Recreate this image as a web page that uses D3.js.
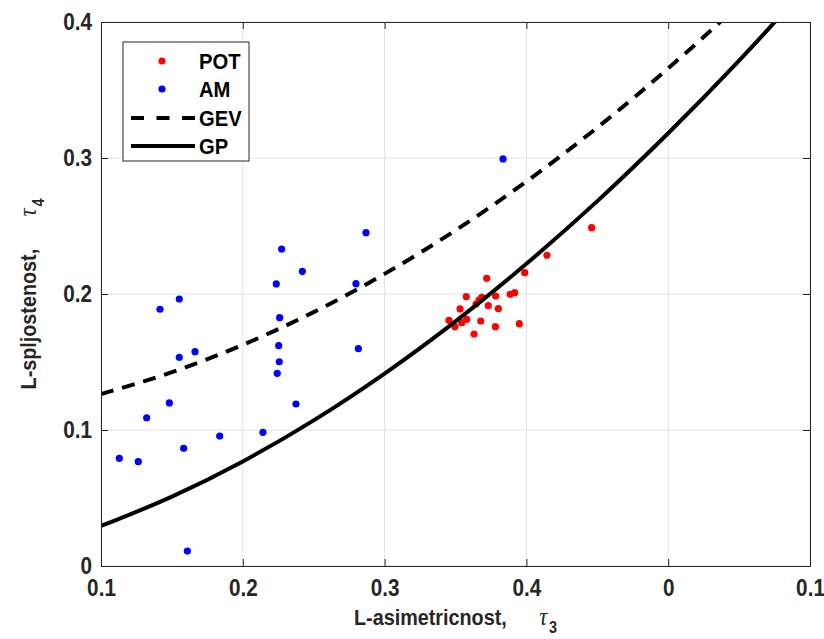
<!DOCTYPE html>
<html><head><meta charset="utf-8">
<script src="https://cdn.jsdelivr.net/npm/d3@7"></script>
<style>
html,body{margin:0;padding:0;background:#fff;}
svg{display:block;}
</style></head>
<body>
<svg id="chart" width="824" height="639"></svg>
<script>
// ---- data ----
const xTickValues = [0.1, 0.2, 0.3, 0.4, 0.5, 0.6];
const xTickLabels = ["0.1", "0.2", "0.3", "0.4", "0", "0.1"];
const yTickValues = [0, 0.1, 0.2, 0.3, 0.4];
const yTickLabels = ["0", "0.1", "0.2", "0.3", "0.4"];

const potTau3 = [0.4460,0.4145,0.3988,0.3720,0.3576,0.3685,0.3783,0.3886,0.3917,0.3532,0.3645,0.3731,0.3802,0.3454,0.3496,0.3544,0.3579,0.3678,0.3781,0.3950,0.3631,0.3666];
const potTau4 = [0.2488,0.2285,0.2157,0.2115,0.1980,0.1976,0.1985,0.1998,0.2010,0.1890,0.1926,0.1914,0.1892,0.1807,0.1760,0.1789,0.1814,0.1801,0.1760,0.1782,0.1706,0.1956];

const amTau3 = [0.1129,0.1263,0.1322,0.1482,0.1416,0.1552,0.1552,0.1663,0.1583,0.1609,0.1837,0.2142,0.2236,0.2274,0.2420,0.2260,0.2253,0.2257,0.2243,0.2375,0.2798,0.2815,0.2869,0.3835];
const amTau4 = [0.0792,0.0767,0.1090,0.1199,0.1888,0.1963,0.1535,0.1576,0.0865,0.0110,0.0956,0.0983,0.2074,0.2331,0.2167,0.1826,0.1620,0.1502,0.1417,0.1191,0.2076,0.1598,0.2451,0.2993];

const curveTau3 = [0.10,0.15,0.20,0.25,0.30,0.35,0.40,0.45,0.50,0.55,0.60];
const gevTau4   = [0.1265,0.1425,0.1626,0.1867,0.2148,0.2468,0.2827,0.3224,0.3659,0.4130,0.4640];
const gpTau4    = [0.0294,0.0510,0.0769,0.1071,0.1415,0.1799,0.2222,0.2683,0.3182,0.3716,0.4286];

const legendLabels = ["POT", "AM", "GEV", "GP"];

// ---- layout ----
const svg = d3.select("#chart");
const L = 101, R = 810, T = 22, B = 566;
const x = d3.scaleLinear().domain([0.1, 0.6]).range([L, R]);
const y = d3.scaleLinear().domain([0, 0.4]).range([B, T]);
const axisColor = "#262626";
const font = "Arial, 'Liberation Sans', Helvetica, sans-serif";
const SX = 0.9; // horizontal condensation of text

// grid
const grid = svg.append("g");
grid.selectAll("line.gx").data(xTickValues).enter().append("line")
  .attr("x1", d => x(d)).attr("x2", d => x(d)).attr("y1", T).attr("y2", B)
  .attr("stroke", "#e3e3e3").attr("stroke-width", 1);
grid.selectAll("line.gy").data(yTickValues).enter().append("line")
  .attr("y1", d => y(d)).attr("y2", d => y(d)).attr("x1", L).attr("x2", R)
  .attr("stroke", "#e3e3e3").attr("stroke-width", 1);

// clip
svg.append("defs").append("clipPath").attr("id", "clip")
  .append("rect").attr("x", L).attr("y", T).attr("width", R - L).attr("height", B - T);

const plot = svg.append("g").attr("clip-path", "url(#clip)");

// points
plot.selectAll("circle.pot").data(potTau3.map((d, i) => [d, potTau4[i]])).enter()
  .append("circle").attr("cx", d => x(d[0])).attr("cy", d => y(d[1])).attr("r", 3.6).attr("fill", "#ff0000");
plot.selectAll("circle.am").data(amTau3.map((d, i) => [d, amTau4[i]])).enter()
  .append("circle").attr("cx", d => x(d[0])).attr("cy", d => y(d[1])).attr("r", 3.6).attr("fill", "#0000ff");

// curves
const line = d3.line().x(d => x(d[0])).y(d => y(d[1])).curve(d3.curveMonotoneX);
plot.append("path").datum(curveTau3.map((d, i) => [d, gevTau4[i]]))
  .attr("d", line).attr("fill", "none").attr("stroke", "#000").attr("stroke-width", 4)
  .attr("stroke-dasharray", "13,9");
plot.append("path").datum(curveTau3.map((d, i) => [d, gpTau4[i]]))
  .attr("d", line).attr("fill", "none").attr("stroke", "#000").attr("stroke-width", 4);

// axes
const fmtX = (d) => xTickLabels[xTickValues.indexOf(d)];
const fmtY = (d) => yTickLabels[yTickValues.indexOf(d)];

const xAxis = svg.append("g").attr("transform", `translate(0,${B})`)
  .call(d3.axisBottom(x).tickValues(xTickValues).tickFormat(fmtX).tickSizeInner(-7).tickSizeOuter(0).tickPadding(14));
const xAxisTop = svg.append("g").attr("transform", `translate(0,${T})`)
  .call(d3.axisTop(x).tickValues(xTickValues).tickFormat("").tickSizeInner(-7).tickSizeOuter(0));
const yAxis = svg.append("g").attr("transform", `translate(${L},0)`)
  .call(d3.axisLeft(y).tickValues(yTickValues).tickFormat(fmtY).tickSizeInner(-7).tickSizeOuter(0).tickPadding(10));
const yAxisRight = svg.append("g").attr("transform", `translate(${R},0)`)
  .call(d3.axisRight(y).tickValues(yTickValues).tickFormat("").tickSizeInner(-7).tickSizeOuter(0));

[xAxis, xAxisTop, yAxis, yAxisRight].forEach(g => {
  g.select(".domain").attr("stroke", axisColor).attr("stroke-width", 1);
  g.selectAll(".tick line").attr("stroke", axisColor);
  g.selectAll(".tick text").attr("fill", axisColor)
    .attr("transform", `scale(${SX},1)`)
    .style("font-family", font).style("font-weight", "bold").style("font-size", "23px");
});

// axis titles
const xt = svg.append("g").attr("transform", `translate(${(L + R) / 2},625) scale(${SX},1)`)
  .append("text").attr("x", 0).attr("y", 0).attr("text-anchor", "middle")
  .attr("fill", axisColor).style("font-family", font).style("font-weight", "bold").style("font-size", "22px");
xt.append("tspan").text("L-asimetricnost,");
xt.append("tspan").attr("dx", 36).style("font-family", "'Liberation Serif', 'Times New Roman', serif")
  .style("font-style", "italic").style("font-weight", "normal").style("font-size", "25px").text("τ");
xt.append("tspan").attr("dy", 8).attr("dx", 2).style("font-size", "16px").text("3");

const yt = svg.append("g").attr("transform", `translate(36,${(T + B) / 2}) rotate(-90) scale(${SX},1)`)
  .append("text").attr("text-anchor", "middle").attr("fill", axisColor)
  .style("font-family", font).style("font-weight", "bold").style("font-size", "22px");
yt.append("tspan").text("L-spljostenost,");
yt.append("tspan").attr("dx", 36).style("font-family", "'Liberation Serif', 'Times New Roman', serif")
  .style("font-style", "italic").style("font-weight", "normal").style("font-size", "25px").text("τ");
yt.append("tspan").attr("dy", 8).attr("dx", 2).style("font-size", "16px").text("4");

// legend
const lg = svg.append("g");
lg.append("rect").attr("x", 123).attr("y", 42).attr("width", 126).attr("height", 119)
  .attr("fill", "#fff").attr("stroke", axisColor).attr("stroke-width", 1);
const rowsY = [61, 89, 118, 146];
lg.append("circle").attr("cx", 162).attr("cy", rowsY[0]).attr("r", 3.6).attr("fill", "#ff0000");
lg.append("circle").attr("cx", 162).attr("cy", rowsY[1]).attr("r", 3.6).attr("fill", "#0000ff");
lg.append("line").attr("x1", 131).attr("x2", 195).attr("y1", rowsY[2]).attr("y2", rowsY[2])
  .attr("stroke", "#000").attr("stroke-width", 4).attr("stroke-dasharray", "13,12.5");
lg.append("line").attr("x1", 131).attr("x2", 195).attr("y1", rowsY[3]).attr("y2", rowsY[3])
  .attr("stroke", "#000").attr("stroke-width", 4);
lg.selectAll("g.lab").data(legendLabels).enter().append("g")
  .attr("transform", (d, i) => `translate(199,${rowsY[i]}) scale(0.92,1)`)
  .append("text").attr("x", 0).attr("y", 0).attr("dy", "0.36em")
  .attr("fill", "#000").style("font-family", font).style("font-weight", "bold").style("font-size", "22px")
  .text(d => d);
</script>
</body></html>
